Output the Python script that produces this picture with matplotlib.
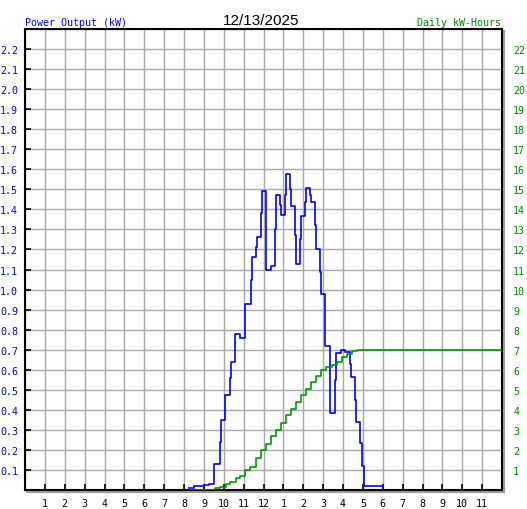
import numpy as np
import matplotlib
matplotlib.use("Agg")
import matplotlib.pyplot as plt
from matplotlib.lines import Line2D

# --------------------------------------------------
# Data (hours since midnight)
# --------------------------------------------------

blue_t = [8.25, 8.50, 9.01, 9.26, 9.53, 9.83, 9.86, 10.06, 10.32, 10.37,
          10.57, 10.84, 11.09, 11.35, 11.40, 11.61, 11.66, 11.86, 11.91, 12.11,
          12.14, 12.36, 12.59, 12.64, 12.85, 12.90, 13.10, 13.13, 13.35, 13.40,
          13.60, 13.65, 13.85, 13.90, 14.10, 14.15, 14.35, 14.40, 14.60, 14.64,
          14.86, 14.91, 15.11, 15.37, 15.60, 15.65, 15.90, 16.10, 16.35, 16.40,
          16.60, 16.65, 16.86, 16.94, 17.08, 18.03]
blue_kw = [0.01, 0.02, 0.027, 0.03, 0.13, 0.24, 0.35, 0.475, 0.56, 0.64,
           0.78, 0.76, 0.93, 1.05, 1.16, 1.21, 1.26, 1.38, 1.49, 1.30,
           1.10, 1.12, 1.30, 1.47, 1.42, 1.37, 1.47, 1.575, 1.50, 1.415,
           1.27, 1.13, 1.25, 1.365, 1.435, 1.505, 1.47, 1.435, 1.32, 1.20,
           1.09, 0.98, 0.72, 0.385, 0.55, 0.685, 0.70, 0.69, 0.63, 0.565,
           0.45, 0.34, 0.235, 0.12, 0.018, 0.0]

green_t = [8.30, 9.56, 9.81, 10.11, 10.31, 10.62, 10.82, 11.07, 11.32, 11.62,
           11.87, 12.13, 12.38, 12.63, 12.88, 13.13, 13.38, 13.64, 13.89, 14.14,
           14.39, 14.64, 14.89, 15.14, 15.43, 15.68, 15.93, 16.19, 16.44, 16.69,
           16.94, 24.0]
green_kwh = [0.02, 0.08, 0.15, 0.3, 0.4, 0.6, 0.7, 1.0, 1.15, 1.6,
             2.0, 2.3, 2.7, 3.0, 3.35, 3.75, 4.05, 4.4, 4.75, 5.05,
             5.4, 5.7, 6.0, 6.15, 6.25, 6.4, 6.65, 6.8, 6.95, 6.98,
             7.0, 7.0]

hour_labels = [str(h) for h in range(1, 13)] + [str(h) for h in range(1, 12)]
kw_ticks = [round(0.1 * i, 1) for i in range(1, 23)]
kwh_ticks = list(range(1, 23))

date_str = "12/13/2025"

# --------------------------------------------------
# Figure
# --------------------------------------------------

W, H = 527, 510
fig = plt.figure(figsize=(W / 100, H / 100), dpi=100)
fig.patch.set_facecolor("white")

x0, x1, y0, y1 = 25, 502, 30, 491
ax = fig.add_axes([x0 / W, 1 - y1 / H, (x1 - x0) / W, (y1 - y0) / H])
ax.set_xlim(0, 24)
ax.set_ylim(0, 2.3)

mono = "DejaVu Sans Mono"
grid_c = "#a8a8a8"
fs = 7.2

ax.set_xticks(range(1, 24))
ax.set_xticklabels(hour_labels, fontsize=fs, family=mono)
ax.set_yticks(kw_ticks)
ax.set_yticklabels([f"{v:.1f}" for v in kw_ticks], fontsize=fs, family=mono, color="#0000ff")
ax.tick_params(axis="both", direction="in", length=4, width=1.2, color="black")
ax.tick_params(axis="x", pad=6)
ax.tick_params(axis="y", pad=5)
ax.grid(True, color=grid_c, linewidth=1.0)
ax.set_axisbelow(True)
for s in ax.spines.values():
    s.set_linewidth(1.5)

ax.step(blue_t, blue_kw, where="post", color="#0000ff", linewidth=1.2, zorder=3)

ax2 = ax.twinx()
ax2.set_ylim(0, 23)
ax2.set_yticks(kwh_ticks)
ax2.set_yticklabels([str(v) for v in kwh_ticks], fontsize=fs, family=mono, color="#008800")
ax2.tick_params(axis="y", length=0, pad=8)
ax2.step(green_t, green_kwh, where="post", color="#009900", linewidth=1.2, zorder=2)

# drop shadow on right and bottom edges
fig.add_artist(Line2D([(x1 + 1.5) / W] * 2, [1 - (y0 + 2) / H, 1 - (y1 + 2) / H],
                      color="#999999", linewidth=1.5))
fig.add_artist(Line2D([(x0 + 2) / W, (x1 + 2) / W], [1 - (y1 + 1.5) / H] * 2,
                      color="#999999", linewidth=1.5))

fig.text(x0 / W, 1 - 26 / H, "Power Output (kW)", color="#0000ff", fontsize=fs,
         family=mono, ha="left", va="baseline")
fig.text(261 / W, 1 - 25 / H, date_str, color="black", fontsize=11,
         family="Liberation Sans", ha="center", va="baseline")
fig.text(501 / W, 1 - 26 / H, "Daily kW-Hours", color="#008800", fontsize=fs,
         family=mono, ha="right", va="baseline")

fig.savefig("out.png", dpi=100)
